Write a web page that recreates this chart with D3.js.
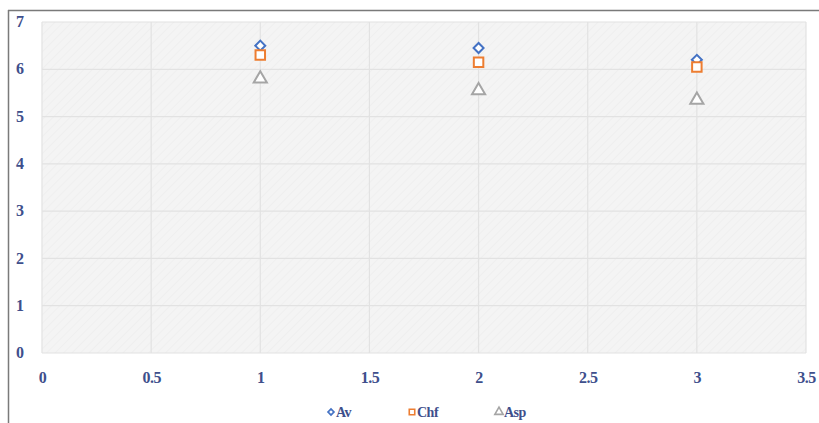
<!DOCTYPE html>
<html>
<head>
<meta charset="utf-8">
<script src="https://cdn.jsdelivr.net/npm/d3@7"></script>
<style>
  html, body { margin: 0; padding: 0; background: #ffffff; }
  svg { display: block; }
  .lbl { font-family: "Liberation Serif", "Times New Roman", serif; font-weight: bold; fill: #3e4f8c; }
</style>
</head>
<body>
<svg id="chart" width="819" height="423"></svg>
<script>
// Scatter of three series over x = 1, 2, 3
const xValues = [1, 2, 3];
const avValues = [6.5, 6.45, 6.2];
const chfValues = [6.3, 6.15, 6.05];
const aspValues = [5.8, 5.55, 5.35];
const xTicks = [0, 0.5, 1, 1.5, 2, 2.5, 3, 3.5];
const yTicks = [0, 1, 2, 3, 4, 5, 6, 7];
const seriesNames = ["Av", "Chf", "Asp"];

const series = [
  { name: seriesNames[0], values: avValues, color: "#4472c4", shape: "diamond" },
  { name: seriesNames[1], values: chfValues, color: "#ed7d31", shape: "square" },
  { name: seriesNames[2], values: aspValues, color: "#a5a5a5", shape: "triangle" }
];

const svg = d3.select("#chart");
const plot = { left: 42, right: 806, top: 22, bottom: 353 };

const x = d3.scaleLinear().domain([0, 3.5]).range([plot.left, plot.right]);
const y = d3.scaleLinear().domain([0, 7]).range([plot.bottom, plot.top]);

// Frame lines along the top and left edges
svg.append("line").attr("x1", 8).attr("x2", 819).attr("y1", 10.5).attr("y2", 10.5)
  .attr("stroke", "#7a7a7a").attr("stroke-width", 1.5);
svg.append("line").attr("x1", 8.5).attr("x2", 8.5).attr("y1", 10).attr("y2", 423)
  .attr("stroke", "#7a7a7a").attr("stroke-width", 1.5);

// Faint hatched fill for the plot area
const defs = svg.append("defs");
const pat = defs.append("pattern").attr("id", "hatch")
  .attr("width", 6).attr("height", 6).attr("patternUnits", "userSpaceOnUse")
  .attr("patternTransform", "rotate(45)");
pat.append("rect").attr("width", 6).attr("height", 6).attr("fill", "#f4f4f4");
pat.append("line").attr("x1", 0).attr("y1", 0).attr("x2", 0).attr("y2", 6)
  .attr("stroke", "#eeeeee").attr("stroke-width", 1.5);

svg.append("rect")
  .attr("x", plot.left).attr("y", plot.top)
  .attr("width", plot.right - plot.left).attr("height", plot.bottom - plot.top)
  .attr("fill", "url(#hatch)");

// Gridlines
const grid = svg.append("g").attr("stroke", "#e2e2e2").attr("stroke-width", 1.2);
grid.selectAll("line.h").data(yTicks).join("line").attr("class", "h")
  .attr("x1", plot.left).attr("x2", plot.right)
  .attr("y1", d => y(d)).attr("y2", d => y(d));
grid.selectAll("line.v").data(xTicks).join("line").attr("class", "v")
  .attr("x1", d => x(d)).attr("x2", d => x(d))
  .attr("y1", plot.top).attr("y2", plot.bottom);

// Axes (labels only, no domain or tick marks)
const yAxis = svg.append("g").attr("transform", `translate(${plot.left - 22},-1)`)
  .call(d3.axisLeft(y).tickValues(yTicks).tickSize(0).tickPadding(0).tickFormat(d3.format("d")));
const xAxis = svg.append("g").attr("transform", `translate(0,${plot.bottom + 19})`)
  .call(d3.axisBottom(x).tickValues(xTicks).tickSize(0).tickPadding(0).tickFormat(d => String(d)));
[yAxis, xAxis].forEach(a => {
  a.select(".domain").remove();
  a.selectAll("text").attr("class", "lbl").attr("font-size", 16)
    .style("font-family", '"Liberation Serif", serif').style("font-weight", "bold").style("fill", "#3e4f8c");
});
yAxis.selectAll("text").attr("text-anchor", "middle").attr("dy", "0.35em");
xAxis.selectAll("text").attr("dy", "0.71em").attr("letter-spacing", "-0.5");

// Marker shapes (diamond is a square turned 45 degrees)
const symbolFor = { diamond: d3.symbolSquare, square: d3.symbolSquare, triangle: d3.symbolTriangle };
const rotateFor = { diamond: 45, square: 0, triangle: 0 };
const sizeFor = { diamond: 50, square: 90, triangle: 75 };

const marks = svg.append("g");
series.forEach(s => {
  marks.selectAll(null).data(xValues.map((xv, i) => [xv, s.values[i]])).join("path")
    .attr("transform", d => `translate(${x(d[0])},${y(d[1])}) rotate(${rotateFor[s.shape]})`)
    .attr("d", d3.symbol().type(symbolFor[s.shape]).size(sizeFor[s.shape]))
    .attr("fill", "#ffffff").attr("stroke", s.color).attr("stroke-width", 2);
});

// Legend
const legendX = [331, 412, 499];
const legend = svg.append("g").attr("transform", "translate(0,412)");
series.forEach((s, i) => {
  const g = legend.append("g").attr("transform", `translate(${legendX[i]},0)`);
  g.append("path").attr("d", d3.symbol().type(symbolFor[s.shape]).size(s.shape === "diamond" ? 18 : 30))
    .attr("transform", `rotate(${rotateFor[s.shape]})`)
    .attr("fill", "#ffffff").attr("stroke", s.color).attr("stroke-width", 1.6);
  g.append("text").attr("class", "lbl").attr("x", 5).attr("dy", "0.35em")
    .attr("font-size", 14).attr("letter-spacing", "-0.5").text(s.name);
});
</script>
</body>
</html>
